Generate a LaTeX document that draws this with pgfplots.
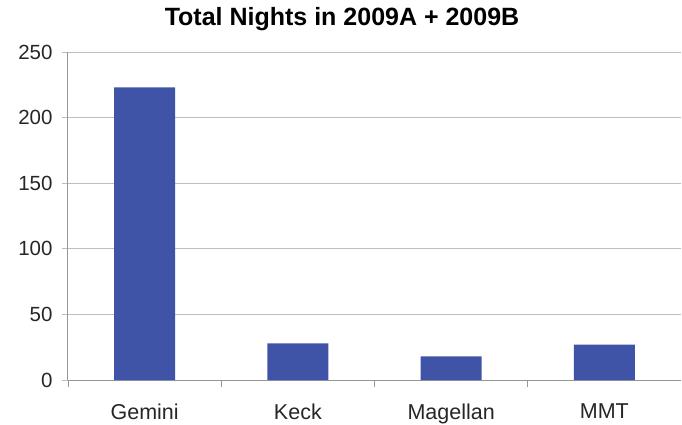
\documentclass[border=0pt]{standalone}
\usepackage{pgfplots}
\pgfplotsset{compat=1.18}
\usepackage{fontspec}
\setmainfont{Liberation Sans}
\definecolor{barblue}{RGB}{63,84,166}
\definecolor{gridgray}{RGB}{190,190,190}
\definecolor{axisgray}{RGB}{150,150,150}
\begin{document}
\begin{tikzpicture}
\path[use as bounding box] (-68pt,-44pt) rectangle (614pt,380pt);
\begin{axis}[
  scale only axis,
  width=613pt, height=328pt,
  at={(0pt,0pt)}, anchor=south west,
  xmin=-0.5, xmax=3.5,
  ymin=0, ymax=250,
  ytick={0,50,100,150,200,250},
  xtick={0,1,2,3},
  xticklabels={Gemini,Keck,Magellan,MMT},
  minor xtick={-0.5,0.5,1.5,2.5},
  axis x line=bottom, axis y line=left,
  axis line style={axisgray, line width=1pt, -},
  x axis line style={-},
  y axis line style={-},
  major x tick style={draw=none},
  minor x tick style={axisgray, line width=0.8pt},
  minor tick length=7pt,
  major y tick style={gridgray, line width=1pt},
  major tick length=6pt,
  tick align=outside,
  ymajorgrids,
  grid style={gridgray, line width=1pt},
  tick label style={font=\fontsize{20.5}{24}\selectfont, text=black!85},
  yticklabel style={xshift=-6pt},
  xticklabel style={yshift=-14pt, font=\fontsize{21.5}{24}\selectfont},
  title={\bfseries Total Nights in 2009A + 2009B},
  title style={font=\fontsize{25}{30}\selectfont, at={(0.447,1)}, anchor=base, yshift=21pt},
  /pgf/number format/assume math mode=true,
  bar width=61pt,
  clip=false,
]
\addplot[ybar, fill=barblue, draw=none] coordinates {(0,223) (1,28) (2,18) (3,27)};
\end{axis}
\end{tikzpicture}
\end{document}
